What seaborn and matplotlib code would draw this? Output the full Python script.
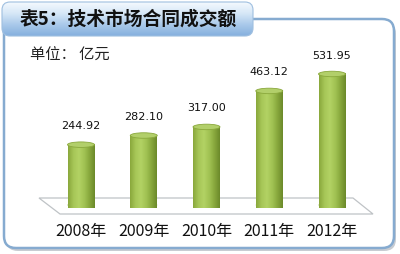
import numpy as np
import pandas as pd
import matplotlib
matplotlib.use("Agg")
import matplotlib.pyplot as plt
import seaborn as sns
from matplotlib.patches import FancyBboxPatch, Ellipse, Polygon
from matplotlib.colors import LinearSegmentedColormap

# ---- data ----
years = ["2008年", "2009年", "2010年", "2011年", "2012年"]
values = [244.92, 282.10, 317.00, 463.12, 531.95]
value_labels = ["244.92", "282.10", "317.00", "463.12", "531.95"]
title_text = "表5：技术市场合同成交额"
unit_text = "单位： 亿元"

sns.set_theme(style="white")
plt.rcParams['font.family'] = ['Noto Sans CJK SC', 'DejaVu Sans']

W, H = 400, 255
fig = plt.figure(figsize=(W / 100, H / 100), dpi=100)
fig.patch.set_facecolor("white")

# background axes in pixel coordinates (y down)
bg = fig.add_axes([0, 0, 1, 1])
bg.set_xlim(0, W)
bg.set_ylim(H, 0)
bg.axis("off")

# frame shadow + frame
shadow = FancyBboxPatch((6, 23), 390, 229, boxstyle="round,pad=0,rounding_size=12",
                        fc="#c8ccd2", ec="none", zorder=1)
bg.add_patch(shadow)
frame = FancyBboxPatch((4, 20), 390, 229, boxstyle="round,pad=0,rounding_size=12",
                       fc="white", ec="#86abd0", lw=1.8, zorder=2)
bg.add_patch(frame)

# title tab with gradient
tab = FancyBboxPatch((2, 3), 251, 34, boxstyle="round,pad=0,rounding_size=8",
                     fc="none", ec="#9fbfe0", lw=0.8, zorder=4)
bg.add_patch(tab)
grad = np.linspace(0, 1, 64).reshape(-1, 1)
tab_cmap = LinearSegmentedColormap.from_list("tab", ["#f4f9fe", "#d6e7f7", "#a9c9ea", "#86b0de"])
im = bg.imshow(grad, extent=(2, 253, 37, 3), cmap=tab_cmap, aspect="auto", zorder=3)
im.set_clip_path(tab)
bg.text(128, 19, title_text, ha="center", va="center", fontsize=13.5,
        fontweight="bold", color="#111111", zorder=5)

# unit text
bg.text(30, 55, unit_text, ha="left", va="center", fontsize=11, color="#222222", zorder=5)

# floor plane
floor = Polygon([(39, 199), (353, 199), (373, 215), (60, 215)], closed=True,
                fc="white", ec="#bfc3c6", lw=0.9, zorder=3)
bg.add_patch(floor)

# ---- bar axes ----
px_per_unit = 0.2463
base_px = 206
top_px = 60
ax_left, ax_right = 40, 373
ax = fig.add_axes([ax_left / W, (H - base_px) / H, (ax_right - ax_left) / W, (base_px - top_px) / H])
ax.patch.set_alpha(0)
df = pd.DataFrame({"year": years, "value": values})
sns.barplot(data=df, x="year", y="value", color="#93b447", width=0.43, ax=ax,
            saturation=1, zorder=4)
ax.set_xlim((ax_left - 81) / 62.75, (ax_right - 81) / 62.75)
ax.set_ylim(0, (base_px - top_px) / px_per_unit)
ax.set_xlabel("")
ax.set_ylabel("")
ax.set_yticks([])
for s in ax.spines.values():
    s.set_visible(False)
ax.tick_params(axis="x", length=0, pad=12, labelsize=11.5, labelcolor="#111111")

cyl_cmap = LinearSegmentedColormap.from_list(
    "cyl", ["#8aa83c", "#a6c657", "#b3d264", "#a2c354", "#88a83d", "#6c8a2a"])
hgrad = np.linspace(0, 1, 64).reshape(1, -1)
ell_h = 5.5 / px_per_unit
for patch, lab in zip(ax.patches, value_labels):
    x0 = patch.get_x()
    w = patch.get_width()
    h = patch.get_height()
    cx = x0 + w / 2
    patch.set_alpha(0)
    # bottom cap
    ax.add_patch(Ellipse((cx, 0), w, ell_h, fc="#8aa83c", ec="none", zorder=4, clip_on=False))
    # body
    ax.imshow(hgrad, extent=(x0, x0 + w, 0, h), cmap=cyl_cmap, aspect="auto", zorder=5)
    bot = Ellipse((cx, 0), w, ell_h, fc="none", ec="none", zorder=4.5, clip_on=False)
    ax.add_patch(bot)
    im2 = ax.imshow(hgrad, extent=(x0, x0 + w, -ell_h / 2, 0), cmap=cyl_cmap,
                    aspect="auto", zorder=4.6, clip_on=False)
    im2.set_clip_path(bot)
    # top cap
    ax.add_patch(Ellipse((cx, h), w, ell_h, fc="#b2cf6a", ec="#8aa83c", lw=0.6, zorder=6,
                         clip_on=False))
    ax.annotate(lab, (cx, h), xytext=(0, 14), textcoords="offset points",
                ha="center", va="center", fontsize=8, color="#111111",
                family=["DejaVu Sans"], zorder=7)
ax.set_xlim((ax_left - 81) / 62.75, (ax_right - 81) / 62.75)
ax.set_ylim(0, (base_px - top_px) / px_per_unit)

fig.savefig("out.png", dpi=100, facecolor="white")
